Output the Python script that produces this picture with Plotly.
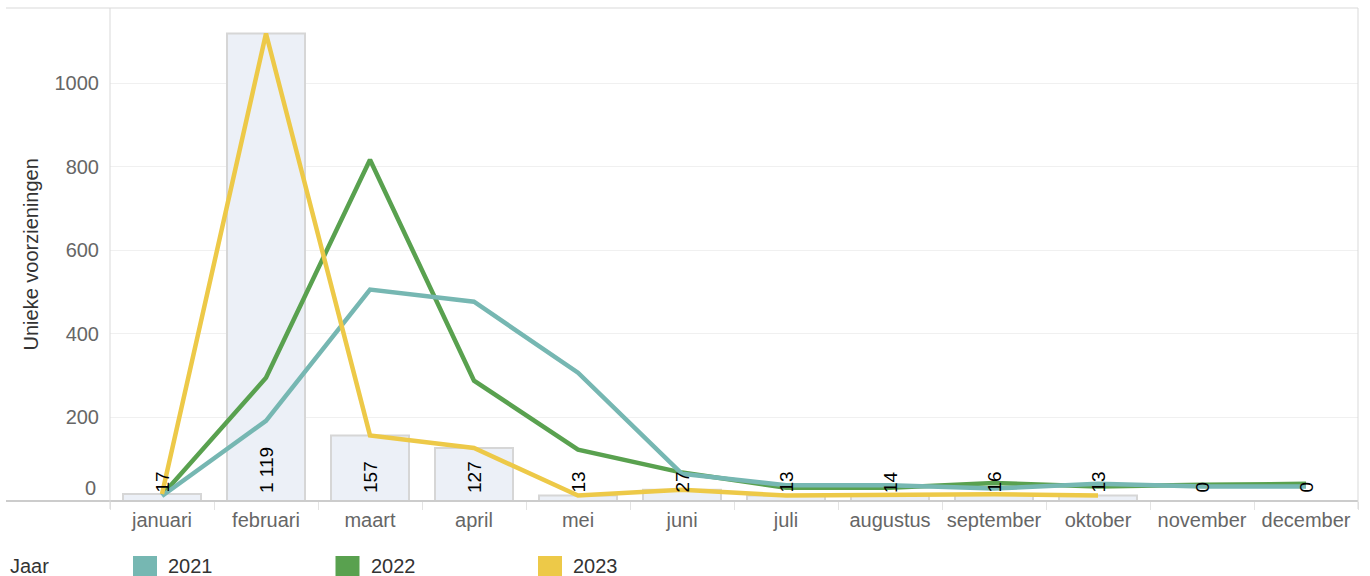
import plotly.graph_objects as go

months = ["januari", "februari", "maart", "april", "mei", "juni", "juli",
          "augustus", "september", "oktober", "november", "december"]
bar_values = [17, 1119, 157, 127, 13, 27, 13, 14, 16, 13, 0, 0]
bar_labels = ["17", "1 119", "157", "127", "13", "27", "13", "14", "16", "13", "0", "0"]
y2021 = [12, 192, 506, 477, 307, 65, 38, 38, 30, 41, 35, 35]
y2022 = [14, 295, 817, 288, 123, 68, 32, 32, 43, 35, 39, 41]
y2023 = [17, 1119, 157, 127, 13, 27, 13, 14, 16, 13]
series_names = ["2021", "2022", "2023"]
series_colors = ["#76b7b2", "#59a14f", "#edc948"]
y_ticks = [200, 400, 600, 800, 1000]

W, H = 1370, 576
L, R, T, B = 110, 12, 8, 75
PW, PH = W - L - R, H - T - B
FONT = "Arial, Liberation Sans, sans-serif"


def px(x):
    return (x - L) / PW


def py(y):
    return (H - B - y) / PH


fig = go.Figure()
fig.add_trace(go.Bar(
    x=months, y=bar_values, marker=dict(color="#ecf0f7", line=dict(color="#d6d6d6", width=2)),
    showlegend=False, hoverinfo="x+y"))

for name, vals, col in [("2022", y2022, series_colors[1]), ("2021", y2021, series_colors[0]),
                        ("2023", y2023, series_colors[2])]:
    fig.add_trace(go.Scatter(x=months[:len(vals)], y=vals, mode="lines", name=name,
                             line=dict(color=col, width=4.5), showlegend=False))

ann = []
for m, lab in zip(months, bar_labels):
    ann.append(dict(x=m, y=0, xref="x", yref="y", text=lab, textangle=-90, showarrow=False,
                    xanchor="center", yanchor="bottom", yshift=6,
                    font=dict(family=FONT, size=19, color="#000000")))
# y-axis zero label (shifted up as in reference)
ann.append(dict(x=px(98), y=0, xref="paper", yref="y", text="0", showarrow=False,
                xanchor="right", yanchor="middle", yshift=13,
                font=dict(family=FONT, size=20, color="#666666")))
# y-axis title
ann.append(dict(x=px(30), y=0.5, xref="paper", yref="paper", text="Unieke voorzieningen",
                textangle=-90, showarrow=False, xanchor="center", yanchor="middle",
                font=dict(family=FONT, size=20, color="#333333")))
# legend
ann.append(dict(x=px(8), y=py(566), xref="paper", yref="paper", text="Jaar", showarrow=False,
                xanchor="left", yanchor="middle", font=dict(family=FONT, size=20, color="#333333")))
shapes = []
for i, (name, col) in enumerate(zip(series_names, series_colors)):
    x0 = 133 + i * 202.5
    shapes.append(dict(type="rect", xref="paper", yref="paper", x0=px(x0), x1=px(x0 + 24),
                       y0=py(556), y1=py(582), fillcolor=col, line=dict(width=0)))
    ann.append(dict(x=px(x0 + 33), y=py(566), xref="paper", yref="paper", text=name,
                    showarrow=False, xanchor="left", yanchor="middle",
                    font=dict(family=FONT, size=20, color="#333333")))

# frame lines
shapes += [
    dict(type="line", xref="paper", yref="paper", x0=px(6), x1=px(1358), y0=1, y1=1,
         line=dict(color="#d9d9d9", width=1)),
    dict(type="line", xref="paper", yref="paper", x0=px(6), x1=px(1358), y0=0, y1=0,
         line=dict(color="#cccccc", width=2)),
    dict(type="line", xref="paper", yref="paper", x0=0, x1=0, y0=py(509), y1=1,
         line=dict(color="#d9d9d9", width=1)),
    dict(type="line", xref="paper", yref="paper", x0=1, x1=1, y0=py(509), y1=1,
         line=dict(color="#d9d9d9", width=1)),
]

fig.update_layout(
    width=W, height=H, margin=dict(l=L, r=R, t=T, b=B),
    paper_bgcolor="white", plot_bgcolor="white",
    font=dict(family=FONT, size=20, color="#666666"),
    bargap=0.25, showlegend=False,
    annotations=ann, shapes=shapes,
    xaxis=dict(type="category", categoryorder="array", categoryarray=months,
               range=[-0.5, 11.5], showgrid=False, zeroline=False, showline=False,
               ticks="outside", tickson="boundaries", ticklen=8, tickcolor="#e3e3e3",
               ticklabelstandoff=5,
               tickfont=dict(family=FONT, size=20, color="#666666")),
    yaxis=dict(range=[0, PH / 0.41775], tickvals=y_ticks, showgrid=True, gridcolor="#f0f0f0",
               gridwidth=1, zeroline=False, showline=False, ticks="", ticklabelstandoff=10,
               tickfont=dict(family=FONT, size=20, color="#666666")),
)

fig.write_html("out.html", config={"displayModeBar": False},
               post_script="document.body.style.margin='0px';")
